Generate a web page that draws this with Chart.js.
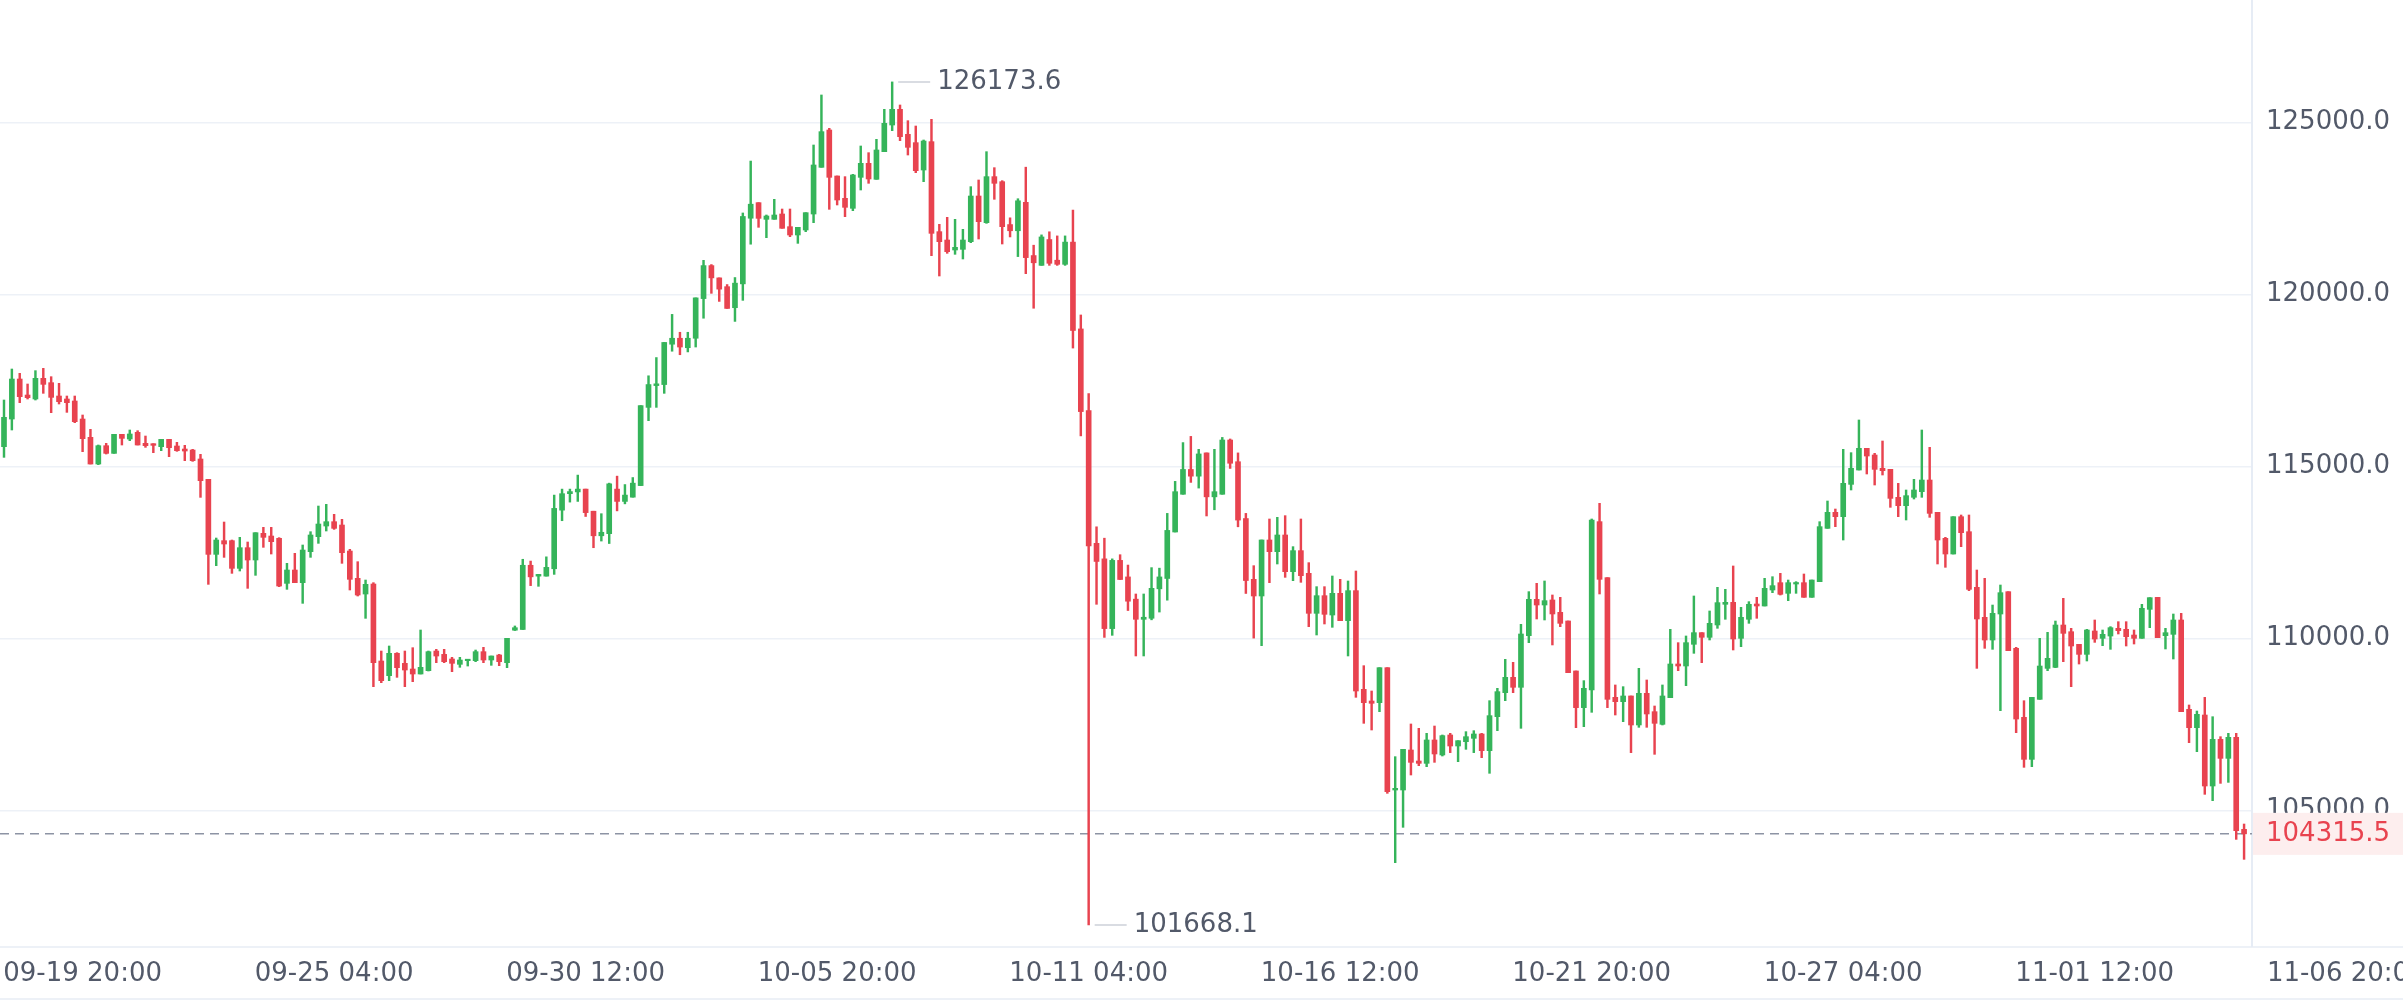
<!DOCTYPE html>
<html>
<head>
<meta charset="utf-8">
<style>
  html, body { margin: 0; padding: 0; background: #ffffff; }
  #wrap { width: 2403px; height: 1000px; }
</style>
<script src="https://cdn.jsdelivr.net/npm/chart.js@4.4.1/dist/chart.umd.min.js"></script>
</head>
<body>
<div id="wrap"><canvas id="c" width="2403" height="1000"></canvas></div>
<script>
// ---- DATA (4h candles, index 0 = 09-18 04:00) ----
const openArr = [
115570,116374,117537,117072,116956,117557,117431,117043,116956,116898,
116374,115842,115066,115599,115376,115929,115793,115987,115667,115657,
115570,115783,115590,115502,115473,115212,114621,112440,112838,112838,
112033,112634,112276,113051,112973,112906,111597,111985,111617,112518,
112954,113264,113390,113293,112537,111743,111287,111578,109340,108913,
109563,109272,109107,108962,109059,109630,109533,109398,109243,109349,
109349,109611,109369,109514,109291,110236,110256,112123,111807,111807,
112021,113725,114204,114255,114337,113694,112980,113041,114337,113979,
114102,114439,116713,117346,117376,118549,118722,118447,118722,119875,
120834,120477,120222,119610,120303,122211,122664,122179,122179,122334,
121966,121724,121869,122334,123691,124776,123439,122790,122499,123400,
123807,123342,124146,124921,125377,124650,124408,123613,124437,121821,
121578,121288,121307,121530,122857,122082,123420,123274,122027,121847,
122673,121126,120841,121592,120991,120871,121517,118993,116620,112760,
112309,110282,112265,111784,111138,110552,110582,111438,111739,113090,
114187,114908,114713,115389,114112,114187,115764,115133,113481,111714,
111230,112858,112518,113003,111937,112548,111889,110726,111239,110677,
111307,110513,111385,108516,108177,108129,109146,105590,105590,106753,
106433,106365,107044,106608,107189,106869,106995,107092,107218,106733,
107722,108420,108866,108575,110077,111133,110968,111114,110755,110503,
109050,107984,108497,113391,111763,108284,108158,108323,107480,108400,
107867,107499,108274,109253,109195,109825,110164,110028,110387,110988,
111046,109999,110552,110997,110939,111404,111617,111307,111578,111617,
111191,111646,113196,113662,113535,114475,114892,115522,115328,114941,
114911,114098,113855,114098,114262,114601,113662,112906,112450,113535,
113099,111481,110609,109950,110706,111355,109708,107702,106481,108225,
109126,109155,110386,110192,109824,109533,110212,109999,110066,110289,
110260,110095,109999,110842,111190,110076,110115,110532,107935,107402,
107770,105706,107062,106510,107121,104446
];
const highArr = [
116927,117828,117702,117392,117780,117847,117605,117411,117043,117043,
116491,116074,115619,115667,115929,115929,116055,116035,115880,115657,
115783,115783,115696,115609,115493,115347,114621,112915,113380,112857,
112935,112799,113070,113225,113225,112925,112179,112470,112712,113099,
113845,113894,113603,113458,112586,112227,111694,111617,109630,109776,
109582,109630,109727,110241,109630,109679,109679,109446,109446,109388,
109659,109737,109485,109533,109999,110358,112297,112245,111858,112368,
114163,114337,114337,114744,114337,113694,113622,114510,114714,114469,
114673,116764,117631,118161,118600,119416,118896,118896,119896,120987,
120864,120477,120283,120487,122364,123873,122664,122305,122761,122479,
122479,121947,122373,124340,125794,124825,123439,123420,123487,124311,
124117,124505,125377,126173.6,125503,125047,124892,124485,125086,122034,
122237,122179,121888,123129,123323,124146,123681,123303,122223,122778,
123695,121427,121727,121817,121697,121697,122448,119399,117116,113241,
112910,112309,112430,112129,111288,111288,112054,112039,113631,114562,
115689,115869,115494,115389,115494,115839,115794,115389,113631,112111,
112858,113468,113517,113565,112664,113468,112199,111501,111501,111811,
111714,111666,111956,109204,108468,109146,109146,106559,106772,107509,
107383,107237,107450,107189,107237,107024,107286,107315,107237,108187,
108546,109388,109302,110406,111356,111598,111666,111259,111191,110503,
109050,108769,113468,113924,111763,108643,108594,108323,109127,108788,
108032,108643,110261,109873,110067,111230,110164,110794,111482,111424,
112102,110900,111065,111191,111743,111791,111888,111694,111646,111869,
111694,113390,113991,113758,115493,115396,116346,115522,115377,115735,
114911,114504,114311,114621,116055,115551,113662,112935,113535,113584,
113584,111985,111743,110967,111549,111355,109737,108186,108283,109999,
110173,110502,111161,110289,109824,110260,110532,110241,110338,110483,
110483,110241,110987,111181,111190,110289,110706,110725,108061,107886,
108283,107721,107140,107237,107237,104601
];
const lowArr = [
115260,116055,116849,116956,116927,117121,116559,116811,116568,116268,
115425,115066,115047,115357,115376,115619,115745,115619,115551,115396,
115454,115280,115435,115163,115144,114097,111568,112111,112353,111888,
111956,111452,111830,112644,112450,111500,111423,111617,111016,112353,
112760,113119,113167,112179,111404,111229,110580,108594,108710,108768,
108865,108594,108739,108962,109049,109291,109291,109030,109156,109194,
109320,109291,109214,109204,109146,110226,110256,111531,111511,111807,
111858,113418,113959,113979,113541,112633,112827,112755,113704,113908,
114102,114439,116326,116713,117121,118345,118243,118325,118467,119304,
120028,119793,119589,119212,119824,121456,121947,121646,122179,121918,
121675,121481,121821,122082,123691,122470,122596,122257,122431,123032,
123226,123342,124146,124757,124466,124049,123536,123274,121123,120532,
121191,121162,121026,121501,121607,122063,122761,121462,121667,121096,
120600,119594,120841,120841,120841,120841,118437,115884,101668.1,110988,
110026,110086,111709,110807,109486,109486,110537,110763,111108,113090,
114187,114532,114367,113556,113736,114187,114938,113241,111303,110005,
109786,111617,112160,111772,111675,111627,110338,110096,110416,110319,
110513,109486,108284,107528,107334,107867,105493,103478,104505,106026,
106297,106268,106394,106578,106676,106414,106772,106676,106530,106075,
107315,108187,108420,107383,109873,110561,110532,109806,110338,109001,
107402,107431,107848,111288,107984,107770,107577,106676,107412,107412,
106627,107480,108274,109059,108623,109563,109292,109951,110290,110552,
109660,109757,110435,110581,110939,111326,111258,111094,111307,111191,
111191,111646,113196,113245,112857,114311,114892,114776,114456,114747,
113807,113535,113439,114049,114098,113516,112160,112063,112450,112663,
111384,109126,109708,109679,107896,109640,107256,106249,106268,108225,
109059,109146,109320,108594,109252,109340,109882,109785,109679,110125,
109776,109834,109999,110309,110018,109689,109398,107867,106966,106704,
105464,105280,105783,105812,104155,103574
];
const closeArr = [
116423,117537,117024,116995,117557,117382,117004,116878,116849,116297,
115803,115066,115599,115376,115929,115812,115939,115619,115599,115609,
115783,115541,115454,115444,115163,114582,112440,112857,112741,112033,
112634,112276,113070,112935,112809,111520,111985,111617,112566,113003,
113322,113390,113196,112489,111714,111258,111568,109291,108768,109563,
109146,109078,108962,109156,109611,109485,109320,109272,109369,109388,
109611,109369,109485,109320,109999,110308,112123,111786,111858,112062,
113776,114204,114265,114337,113653,112980,113082,114490,113979,114163,
114510,116764,117376,117397,118600,118722,118467,118722,119896,120834,
120477,120150,119589,120324,122262,122619,122208,122276,122305,121918,
121724,121947,122373,123759,124728,123400,122741,122528,123468,123807,
123352,124195,124970,125377,124582,124272,123594,124456,121772,121530,
121239,121365,121578,122857,122111,123420,123226,121966,121847,122718,
121066,120916,121667,120901,120871,121517,118948,116590,112685,112234,
110282,112265,111709,111078,110552,110612,111453,111784,113136,114262,
114908,114713,115359,114112,114262,115764,115088,113436,111679,111230,
112858,112518,113003,111937,112548,111821,110726,111239,110697,111307,
110513,111385,108468,108129,108110,109146,105542,105639,106772,106394,
106365,107044,106637,107170,106869,107024,107140,107218,106733,107751,
108449,108865,108575,110125,111133,110968,111094,110707,110435,109001,
107984,108546,113439,111714,108226,108158,108323,107480,108400,107800,
107528,108323,109253,109195,109873,110164,110028,110435,111036,111046,
109980,110610,110988,110939,111452,111530,111278,111617,111617,111191,
111694,113245,113662,113535,114505,114941,115522,115299,114911,114873,
114068,113855,114146,114311,114601,113632,112857,112450,113535,113070,
111423,110561,109950,110725,111326,109640,107653,106481,108283,109194,
109417,110386,110144,109776,109533,110241,109979,110115,110309,110221,
110047,109999,110871,111181,110018,110163,110532,107867,107402,107789,
105706,107062,106510,107121,104407,104315.5
];
// x-axis tick positions (candle index) and their labels
const tickIndex  = [10, 42, 74, 106, 138, 170, 202, 234, 266, 298];
const tickLabels = ['09-19 20:00','09-25 04:00','09-30 12:00','10-05 20:00','10-11 04:00',
                    '10-16 12:00','10-21 20:00','10-27 04:00','11-01 12:00','11-06 20:00'];
// y-axis tick values
const yTickValues = [105000, 110000, 115000, 120000, 125000];
const lastPrice = 104315.5;

// ---- STYLE ----
const GREEN = '#35b45a';
const RED = '#e8434f';
const TEXT = '#525969';
const GRID = '#edf1f7';
const AXIS_W = 151;           // width of the price axis strip on the right
const FONT = "'DejaVu Sans', sans-serif";
const FS = 26;

const idx = openArr.map((_, i) => i);
const colors = idx.map(i => closeArr[i] >= openArr[i] ? GREEN : RED);
const bodyData = idx.map(i => ({ x: i, y: [openArr[i], closeArr[i]] }));
const wickData = idx.map(i => ({ x: i, y: [lowArr[i], highArr[i]] }));

const overlay = {
  id: 'overlay',
  beforeDatasetsDraw(chart) {
    const { ctx, chartArea: a, scales: { y } } = chart;
    const sepX = a.right - AXIS_W;
    ctx.save();
    ctx.fillStyle = '#ffffff';
    ctx.fillRect(sepX, a.top, a.right - sepX, a.bottom - a.top - 1);
    ctx.strokeStyle = '#e6ecf5';
    ctx.lineWidth = 2;
    ctx.beginPath(); ctx.moveTo(sepX, a.top); ctx.lineTo(sepX, a.bottom); ctx.stroke();
    const py = y.getPixelForValue(lastPrice);
    ctx.setLineDash([9, 6]);
    ctx.strokeStyle = '#8d94a4';
    ctx.lineWidth = 1.5;
    ctx.beginPath(); ctx.moveTo(a.left, py); ctx.lineTo(sepX, py); ctx.stroke();
    ctx.restore();
  },
  afterDraw(chart) {
    const { ctx, chartArea: a, scales: { x, y }, width, height } = chart;
    const sepX = a.right - AXIS_W;
    ctx.save();
    ctx.font = FS + 'px ' + FONT;
    ctx.textAlign = 'left';
    ctx.textBaseline = 'middle';
    // price axis labels (from the library's y ticks)
    ctx.fillStyle = TEXT;
    y.ticks.forEach(t => {
      ctx.fillText(t.label, sepX + 14, y.getPixelForValue(t.value));
    });
    // last price tag
    const py = y.getPixelForValue(lastPrice);
    ctx.fillStyle = '#fdeeee';
    ctx.fillRect(sepX + 1, py - 21, a.right - sepX - 1, 42);
    ctx.fillStyle = RED;
    ctx.fillText(lastPrice.toFixed(1), sepX + 14, py);
    // high / low annotations
    let hi = 0, lo = 0;
    idx.forEach(i => { if (highArr[i] > highArr[hi]) hi = i; if (lowArr[i] < lowArr[lo]) lo = i; });
    const marks = [[hi, highArr[hi]], [lo, lowArr[lo]]];
    marks.forEach(([i, v]) => {
      const px = x.getPixelForValue(i), vy = y.getPixelForValue(v);
      ctx.strokeStyle = '#cdd1d8';
      ctx.lineWidth = 1.5;
      ctx.beginPath(); ctx.moveTo(px + 6, vy); ctx.lineTo(px + 38, vy); ctx.stroke();
      ctx.fillStyle = TEXT;
      ctx.fillText(v.toFixed(1), px + 45, vy);
    });
    // bottom border line
    ctx.strokeStyle = GRID;
    ctx.lineWidth = 2;
    ctx.beginPath(); ctx.moveTo(0, height - 1); ctx.lineTo(width, height - 1); ctx.stroke();
    ctx.restore();
  }
};

new Chart(document.getElementById('c'), {
  type: 'bar',
  data: {
    datasets: [
      { data: bodyData, backgroundColor: colors, barThickness: 5, minBarLength: 1.5, grouped: false, borderWidth: 0 },
      { data: wickData, backgroundColor: colors, barThickness: 1.8, grouped: false, borderWidth: 0 }
    ]
  },
  options: {
    responsive: false,
    animation: false,
    devicePixelRatio: 1,
    layout: { padding: 0 },
    plugins: { legend: { display: false }, tooltip: { enabled: false } },
    scales: {
      x: {
        type: 'linear',
        min: -0.509,
        max: 305.22,
        offset: false,
        grid: { display: false, drawTicks: false },
        border: { display: true, color: GRID, width: 2 },
        afterBuildTicks: s => { s.ticks = tickIndex.map(v => ({ value: v })); },
        afterFit: s => { s.height = 53; s.paddingLeft = 0; s.paddingRight = 0; },
        ticks: {
          autoSkip: false, maxRotation: 0, minRotation: 0, padding: 12,
          color: TEXT, font: { family: FONT, size: FS },
          callback: (v, i) => tickLabels[i]
        }
      },
      y: {
        type: 'linear',
        position: 'right',
        min: 101026,
        max: 128555,
        grid: { color: GRID, lineWidth: 1.5, drawTicks: false },
        border: { display: false },
        afterBuildTicks: s => { s.ticks = yTickValues.map(v => ({ value: v })); },
        afterFit: s => { s.width = 0; s.paddingTop = 0; s.paddingBottom = 0; },
        ticks: {
          display: false,
          font: { family: FONT, size: FS },
          callback: v => Number(v).toFixed(1)
        }
      }
    }
  },
  plugins: [overlay]
});
</script>
</body>
</html>
